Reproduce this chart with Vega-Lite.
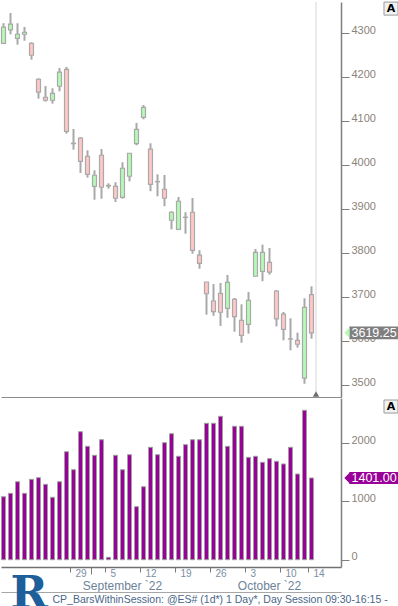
{
  "$schema": "https://vega.github.io/schema/vega-lite/v6.json",
  "background": "white",
  "padding": 0,
  "spacing": 0,
  "config": {
    "view": {"stroke": null},
    "font": "Liberation Sans",
    "axis": {"grid": false, "labelFont": "Liberation Sans", "titleFont": "Liberation Sans"}
  },
  "datasets": {
    "es": [
      {"date": "2022-08-15", "open": 4277, "high": 4323, "low": 4276, "close": 4314, "volume": 1080},
      {"date": "2022-08-16", "open": 4307.5, "high": 4346, "low": 4297.5, "close": 4320.5, "volume": 1138},
      {"date": "2022-08-17", "open": 4288.5, "high": 4322.75, "low": 4274, "close": 4297.75, "volume": 1337},
      {"date": "2022-08-18", "open": 4297.75, "high": 4314.25, "low": 4283, "close": 4302.25, "volume": 1138},
      {"date": "2022-08-19", "open": 4277.25, "high": 4279.5, "low": 4240, "close": 4250, "volume": 1378},
      {"date": "2022-08-22", "open": 4195.5, "high": 4197.75, "low": 4151.5, "close": 4166, "volume": 1406},
      {"date": "2022-08-23", "open": 4154.5, "high": 4180, "low": 4144.5, "close": 4147.75, "volume": 1292},
      {"date": "2022-08-24", "open": 4147.75, "high": 4175, "low": 4140, "close": 4163.5, "volume": 1070},
      {"date": "2022-08-25", "open": 4179.5, "high": 4221, "low": 4168, "close": 4211.5, "volume": 1337},
      {"date": "2022-08-26", "open": 4218, "high": 4223.5, "low": 4071.75, "close": 4077, "volume": 1851},
      {"date": "2022-08-29", "open": 4050, "high": 4082.5, "low": 4035.5, "close": 4049, "volume": 1543},
      {"date": "2022-08-30", "open": 4062, "high": 4064.25, "low": 3982.5, "close": 4009, "volume": 2194},
      {"date": "2022-08-31", "open": 4020.5, "high": 4034, "low": 3971.75, "close": 3979.5, "volume": 1944},
      {"date": "2022-09-01", "open": 3952.25, "high": 3988.5, "low": 3921.75, "close": 3977.25, "volume": 1790},
      {"date": "2022-09-02", "open": 4022.75, "high": 4037, "low": 3924, "close": 3950, "volume": 2057},
      {"date": "2022-09-05", "open": 3954, "high": 3959, "low": 3946.75, "close": 3953, "volume": 41},
      {"date": "2022-09-06", "open": 3952.25, "high": 3961.5, "low": 3916.5, "close": 3925, "volume": 1790},
      {"date": "2022-09-07", "open": 3927.25, "high": 4006.75, "low": 3924, "close": 3993.25, "volume": 1543},
      {"date": "2022-09-08", "open": 3975, "high": 4027.25, "low": 3963.5, "close": 4027.25, "volume": 1800},
      {"date": "2022-09-09", "open": 4049, "high": 4096, "low": 4045.5, "close": 4081.75, "volume": 909},
      {"date": "2022-09-12", "open": 4109, "high": 4137, "low": 4104.5, "close": 4131.75, "volume": 1251},
      {"date": "2022-09-13", "open": 4036.5, "high": 4050, "low": 3941, "close": 3956.75, "volume": 1927},
      {"date": "2022-09-14", "open": 3962.5, "high": 3979.5, "low": 3929.5, "close": 3963, "volume": 1800},
      {"date": "2022-09-15", "open": 3945.5, "high": 3978, "low": 3907, "close": 3925, "volume": 2006},
      {"date": "2022-09-16", "open": 3875, "high": 3895.5, "low": 3854.5, "close": 3893.25, "volume": 2160},
      {"date": "2022-09-19", "open": 3854.5, "high": 3928, "low": 3854.5, "close": 3918.25, "volume": 1773},
      {"date": "2022-09-20", "open": 3882, "high": 3893.25, "low": 3844.5, "close": 3881.5, "volume": 1972},
      {"date": "2022-09-21", "open": 3893.25, "high": 3925.75, "low": 3799, "close": 3806.75, "volume": 2057},
      {"date": "2022-09-22", "open": 3796, "high": 3807, "low": 3765, "close": 3777.25, "volume": 2057},
      {"date": "2022-09-23", "open": 3734.75, "high": 3734.75, "low": 3660.5, "close": 3708, "volume": 2338},
      {"date": "2022-09-26", "open": 3691.5, "high": 3730, "low": 3658, "close": 3667.25, "volume": 2338},
      {"date": "2022-09-27", "open": 3709, "high": 3732.5, "low": 3635, "close": 3666, "volume": 2458},
      {"date": "2022-09-28", "open": 3675, "high": 3750.75, "low": 3653.5, "close": 3734, "volume": 1944},
      {"date": "2022-09-29", "open": 3695.5, "high": 3698.5, "low": 3621.75, "close": 3656, "volume": 2287},
      {"date": "2022-09-30", "open": 3647.75, "high": 3684, "low": 3596.75, "close": 3613.5, "volume": 2287},
      {"date": "2022-10-03", "open": 3638.5, "high": 3712, "low": 3617.25, "close": 3693, "volume": 1755},
      {"date": "2022-10-04", "open": 3747.75, "high": 3809.75, "low": 3747.75, "close": 3802.25, "volume": 1773},
      {"date": "2022-10-05", "open": 3759, "high": 3819.5, "low": 3736.5, "close": 3802.25, "volume": 1670},
      {"date": "2022-10-06", "open": 3779.5, "high": 3812, "low": 3751.5, "close": 3757, "volume": 1732},
      {"date": "2022-10-07", "open": 3714.25, "high": 3716.5, "low": 3634, "close": 3650.75, "volume": 1687},
      {"date": "2022-10-10", "open": 3661.5, "high": 3666.5, "low": 3602.25, "close": 3627.25, "volume": 1641},
      {"date": "2022-10-11", "open": 3605.5, "high": 3652.25, "low": 3579.5, "close": 3605, "volume": 1927},
      {"date": "2022-10-12", "open": 3602.25, "high": 3619.5, "low": 3585.5, "close": 3593.25, "volume": 1469},
      {"date": "2022-10-13", "open": 3516.5, "high": 3697.75, "low": 3503.5, "close": 3677.25, "volume": 2561},
      {"date": "2022-10-14", "open": 3706, "high": 3725, "low": 3606, "close": 3619.25, "volume": 1401}
    ]
  },
  "vconcat": [
    {
      "width": 340,
      "height": 395,
      "data": {"name": "es"},
      "layer": [
        {
          "mark": {"type": "rule", "color": "#a8a8a8", "strokeWidth": 2},
          "encoding": {
            "x": {
              "field": "date", "type": "ordinal",
              "scale": {"type": "band", "domain": ["2022-08-15","2022-08-16","2022-08-17","2022-08-18","2022-08-19","2022-08-22","2022-08-23","2022-08-24","2022-08-25","2022-08-26","2022-08-29","2022-08-30","2022-08-31","2022-09-01","2022-09-02","2022-09-05","2022-09-06","2022-09-07","2022-09-08","2022-09-09","2022-09-12","2022-09-13","2022-09-14","2022-09-15","2022-09-16","2022-09-19","2022-09-20","2022-09-21","2022-09-22","2022-09-23","2022-09-26","2022-09-27","2022-09-28","2022-09-29","2022-09-30","2022-10-03","2022-10-04","2022-10-05","2022-10-06","2022-10-07","2022-10-10","2022-10-11","2022-10-12","2022-10-13","2022-10-14","2022-10-17","2022-10-18","2022-10-19"], "paddingInner": 0.2857, "paddingOuter": 0.4286, "align": 0, "round": false},
              "axis": {"orient": "bottom", "labels": false, "ticks": false, "domain": true, "domainColor": "#8c8c8c", "domainWidth": 1, "title": null}
            },
            "y": {
              "field": "low", "type": "quantitative",
              "scale": {"domain": [3473.4, 4371], "nice": false, "zero": false},
              "axis": {
                "orient": "right", "title": null, "zindex": 0,
                "values": [3500,3550,3600,3650,3700,3750,3800,3850,3900,3950,4000,4050,4100,4150,4200,4250,4300,4350],
                "format": "d",
                "labelExpr": "datum.value % 100 === 0 ? datum.label : ''",
                "tickSize": {"condition": {"test": "datum.value % 100 !== 0", "value": 4}, "value": 8},
                "tickColor": "#7f7f7f", "tickWidth": 1,
                "domainColor": "#7f7f7f", "domainWidth": 1.5,
                "labelColor": "#8c8379", "labelFontSize": 11, "labelPadding": 2,
                "labelBaseline": "alphabetic", "labelOverlap": false
              }
            },
            "y2": {"field": "high"}
          }
        },
        {
          "mark": {"type": "bar", "width": {"band": 0.8}, "stroke": "#a9a9a9", "strokeWidth": 1.2},
          "encoding": {
            "x": {"field": "date", "type": "ordinal"},
            "y": {"field": "open", "type": "quantitative"},
            "y2": {"field": "close"},
            "fill": {"condition": {"test": "datum.close >= datum.open", "value": "#b5f9b5"}, "value": "#ffc7c7"}
          }
        },
        {
          "transform": [{"filter": "datum.date == '2022-10-14'"}],
          "mark": {"type": "rule", "color": "#e4e4e4", "strokeWidth": 1.5},
          "encoding": {"x": {"datum": "2022-10-17", "type": "ordinal", "bandPosition": 0}}
        },
        {
          "transform": [{"filter": "datum.date == '2022-10-14'"}],
          "mark": {"type": "point", "shape": "triangle-up", "size": 40, "filled": true, "color": "#6e6e6e", "opacity": 1},
          "encoding": {
            "x": {"datum": "2022-10-17", "type": "ordinal", "bandPosition": 0},
            "y": {"datum": 3480, "type": "quantitative"}
          }
        },
        {
          "transform": [{"filter": "datum.date == '2022-10-14'"}],
          "mark": {"type": "point", "shape": "M3.78,-0.64H8.75V0.64H3.78Z", "size": 400, "filled": true, "color": "#7f7f7f", "opacity": 1, "strokeWidth": 0},
          "encoding": {"x": {"field": "date", "type": "ordinal"}, "y": {"field": "close", "type": "quantitative"}}
        },
        {
          "transform": [{"filter": "datum.date == '2022-10-14'"}],
          "mark": {"type": "point", "shape": "M3.8,-0.5L3.28,0L3.8,0.5Z", "size": 400, "filled": true, "color": "#b5f9b5", "opacity": 1, "strokeWidth": 0},
          "encoding": {"x": {"field": "date", "type": "ordinal"}, "y": {"field": "close", "type": "quantitative"}}
        },
        {
          "transform": [{"filter": "datum.date == '2022-10-14'"}],
          "mark": {"type": "text", "align": "left", "baseline": "middle", "dx": 40, "fontSize": 12.5, "color": "white"},
          "encoding": {
            "x": {"field": "date", "type": "ordinal"},
            "y": {"field": "close", "type": "quantitative"},
            "text": {"field": "close", "type": "quantitative", "format": ".2f"}
          }
        },
        {
          "transform": [{"filter": "datum.date == '2022-10-14'"}],
          "mark": {"type": "point", "shape": "M7.25,-0.65H8.65V0.65H7.25Z", "size": 400, "filled": true, "fill": "#f2f2f2", "stroke": "#9a9a9a", "strokeWidth": 1, "opacity": 1},
          "encoding": {"x": {"field": "date", "type": "ordinal"}, "y": {"datum": 4356, "type": "quantitative"}}
        },
        {
          "transform": [{"filter": "datum.date == '2022-10-14'"}],
          "mark": {"type": "text", "align": "center", "baseline": "middle", "dx": 79.5, "fontSize": 11, "fontWeight": "bold", "color": "black", "font": "DejaVu Sans"},
          "encoding": {"x": {"field": "date", "type": "ordinal"}, "y": {"datum": 4356, "type": "quantitative"}, "text": {"value": "A"}}
        }
      ]
    },
    {
      "width": 340,
      "height": 169,
      "data": {"name": "es"},
      "resolve": {"axis": {"x": "independent"}},
      "layer": [
        {
          "mark": {"type": "bar", "width": {"band": 0.8}, "fill": "#990099", "stroke": "#a0a0a0", "strokeWidth": 1},
          "encoding": {
            "x": {
              "field": "date", "type": "ordinal",
              "scale": {"type": "band", "domain": ["2022-08-15","2022-08-16","2022-08-17","2022-08-18","2022-08-19","2022-08-22","2022-08-23","2022-08-24","2022-08-25","2022-08-26","2022-08-29","2022-08-30","2022-08-31","2022-09-01","2022-09-02","2022-09-05","2022-09-06","2022-09-07","2022-09-08","2022-09-09","2022-09-12","2022-09-13","2022-09-14","2022-09-15","2022-09-16","2022-09-19","2022-09-20","2022-09-21","2022-09-22","2022-09-23","2022-09-26","2022-09-27","2022-09-28","2022-09-29","2022-09-30","2022-10-03","2022-10-04","2022-10-05","2022-10-06","2022-10-07","2022-10-10","2022-10-11","2022-10-12","2022-10-13","2022-10-14","2022-10-17","2022-10-18","2022-10-19"], "paddingInner": 0.2857, "paddingOuter": 0.4286, "align": 0, "round": false},
              "axis": {
                "orient": "bottom",
                "values": ["2022-08-29","2022-09-01","2022-09-05","2022-09-12","2022-09-19","2022-09-26","2022-10-03","2022-10-10","2022-10-14"],
                "bandPosition": 0,
                "labelExpr": "datum.value == '2022-09-01' ? '' : '' + toNumber(substring(datum.value, 8, 10))",
                "labelAlign": "left", "labelBaseline": "top", "labelOffset": 2, "labelPadding": -4,
                "labelFontSize": 10, "labelColor": "#7a8ea3", "labelAngle": 0, "labelOverlap": false, "labelFlush": false,
                "tickSize": {"condition": {"test": "datum.value == '2022-09-01'", "value": 7}, "value": 5},
                "tickColor": "#7a7a7a", "tickWidth": 1,
                "domainColor": "#707070", "domainWidth": 1.5,
                "title": "CP_BarsWithinSession: @ES# (1d*) 1 Day*, Day Session 09:30-16:15 -",
                "titleX": 51, "titleY": 35, "titleAlign": "left", "titleAnchor": "start", "titleBaseline": "alphabetic",
                "titleFontSize": 10.5, "titleFontWeight": "normal", "titleColor": "#4a6688", "titleFont": "Liberation Sans"
              }
            },
            "y": {
              "field": "volume", "type": "quantitative",
              "scale": {"domain": [-125, 2772], "nice": false, "zero": false},
              "axis": {
                "orient": "right", "title": null, "zindex": 0,
                "values": [0, 500, 1000, 1500, 2000, 2500],
                "format": "d",
                "labelExpr": "datum.value % 1000 === 0 ? datum.label : ''",
                "tickSize": {"condition": {"test": "datum.value % 1000 !== 0", "value": 3}, "value": 8},
                "tickColor": "#7f7f7f", "tickWidth": 1,
                "domainColor": "#7f7f7f", "domainWidth": 1.5,
                "labelColor": "#8c8379", "labelFontSize": 11, "labelPadding": 2,
                "labelBaseline": "alphabetic", "labelOverlap": false
              }
            },
            "y2": {"datum": 0}
          }
        },
        {
          "transform": [{"filter": "datum.date == '2022-10-14'"}],
          "mark": {"type": "point", "shape": "M3.78,-0.6H8.75V0.6H3.78V0.5L3.28,0L3.78,-0.5Z", "size": 400, "filled": true, "color": "#990099", "opacity": 1, "strokeWidth": 0},
          "encoding": {"x": {"field": "date", "type": "ordinal", "axis": null}, "y": {"field": "volume", "type": "quantitative"}}
        },
        {
          "transform": [{"filter": "datum.date == '2022-10-14'"}],
          "mark": {"type": "text", "align": "left", "baseline": "middle", "dx": 40, "fontSize": 12.5, "color": "white"},
          "encoding": {
            "x": {
              "field": "date", "type": "ordinal",
              "axis": {
                "orient": "bottom", "offset": 25,
                "values": ["2022-09-07", "2022-10-06"],
                "labelExpr": "datum.value == '2022-09-07' ? 'September `22' : 'October `22'",
                "ticks": false, "tickSize": 0,
                "domain": true, "domainColor": "#a6a6a6", "domainWidth": 1,
                "labelAlign": "center", "labelBaseline": "top", "labelPadding": -12,
                "labelFontSize": 12, "labelColor": "#6e8399", "labelAngle": 0, "labelOverlap": false,
                "title": "R", "titleX": 9, "titleY": 15, "titleAlign": "left", "titleAnchor": "start", "titleBaseline": "alphabetic",
                "titleFont": "DejaVu Serif", "titleFontWeight": "bold", "titleFontSize": 45, "titleColor": "#1d5f9a"
              }
            },
            "y": {"field": "volume", "type": "quantitative"},
            "text": {"field": "volume", "type": "quantitative", "format": ".2f"}
          }
        },
        {
          "transform": [{"filter": "datum.date == '2022-10-14'"}],
          "mark": {"type": "point", "shape": "M7.25,-0.65H8.65V0.65H7.25Z", "size": 400, "filled": true, "fill": "#f2f2f2", "stroke": "#9a9a9a", "strokeWidth": 1, "opacity": 1},
          "encoding": {"x": {"field": "date", "type": "ordinal", "axis": null}, "y": {"datum": 2626, "type": "quantitative"}}
        },
        {
          "transform": [{"filter": "datum.date == '2022-10-14'"}],
          "mark": {"type": "text", "align": "center", "baseline": "middle", "dx": 79.5, "fontSize": 11, "fontWeight": "bold", "color": "black", "font": "DejaVu Sans"},
          "encoding": {"x": {"field": "date", "type": "ordinal", "axis": null}, "y": {"datum": 2626, "type": "quantitative"}, "text": {"value": "A"}}
        }
      ]
    }
  ]
}
